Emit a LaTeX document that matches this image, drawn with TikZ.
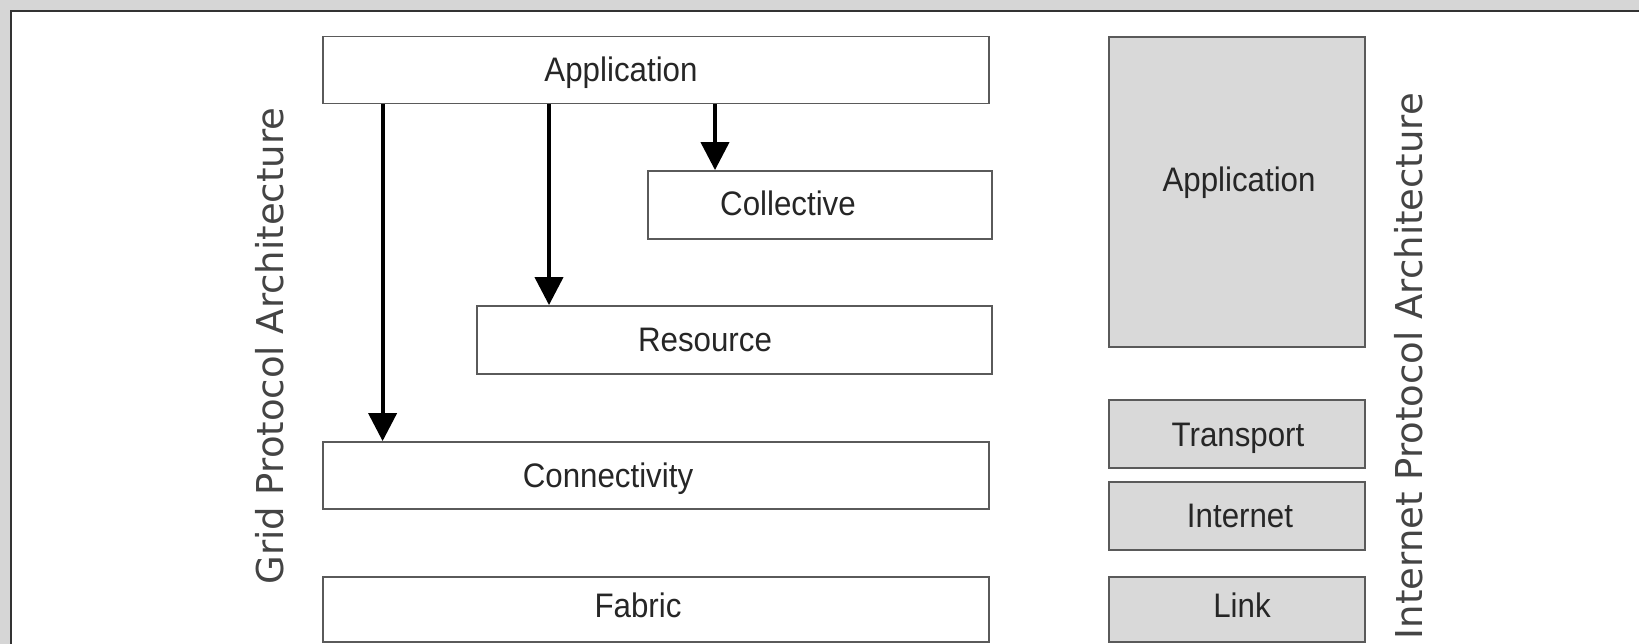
\documentclass[tikz,border=0pt]{standalone}
\usepackage{fontspec}
\usetikzlibrary{arrows.meta}
\newfontfamily\boxfont[FakeStretch=0.92]{Liberation Sans}
\newfontfamily\sidefont{DejaVu Sans}
\definecolor{bggrey}{HTML}{D6D6D6}
\definecolor{framegrey}{HTML}{333333}
\definecolor{boxline}{HTML}{5A5A5A}
\definecolor{boxfill}{HTML}{D9D9D9}
\definecolor{sidetext}{HTML}{444444}
\tikzset{
  layer/.style={draw=boxline, line width=1.8pt, rectangle, inner sep=0pt},
  inetlayer/.style={layer, fill=boxfill},
  lbl/.style={font=\boxfont\fontsize{34}{38}\selectfont, text=black!85, inner sep=0pt, anchor=base},
  side/.style={font=\sidefont\fontsize{37}{40}\selectfont, text=sidetext, inner sep=0pt, rotate=90},
  arr/.style={line width=4pt, -{Triangle[width=28pt,length=28pt]}}
}
\begin{document}
\begin{tikzpicture}[x=1pt,y=-1pt]
\useasboundingbox (0,0) rectangle (1639,644);
\fill[bggrey] (0,0) rectangle (1639,644);
\fill[white] (11,11) rectangle (1639,644);
\draw[framegrey, line width=2pt] (11,644) -- (11,11) -- (1639,11);

% Grid protocol stack
\node[layer, minimum width=666pt, minimum height=67pt] (gApp) at (656,70) {};
\node[layer, minimum width=344pt, minimum height=68pt] (gColl) at (820,205) {};
\node[layer, minimum width=515pt, minimum height=68pt] (gRes) at (734.5,340) {};
\node[layer, minimum width=666pt, minimum height=67pt] (gConn) at (656,475.5) {};
\node[layer, minimum width=666pt, minimum height=65pt] (gFab) at (656,609.5) {};

\node[lbl] (tgApp) at (621,82) {Application};
\node[lbl] (tgColl) at (788,216) {Collective};
\node[lbl] (tgRes) at (705,352) {Resource};
\node[lbl] (tgConn) at (608,487) {Connectivity};
\node[lbl] (tgFab) at (638,617) {Fabric};

% Internet protocol stack
\node[inetlayer, minimum width=256pt, minimum height=310pt] (iApp) at (1237,192) {};
\node[inetlayer, minimum width=256pt, minimum height=68pt] (iTr) at (1237,434) {};
\node[inetlayer, minimum width=256pt, minimum height=68pt] (iInt) at (1237,516) {};
\node[inetlayer, minimum width=256pt, minimum height=65pt] (iLink) at (1237,609.5) {};

\node[lbl] (tiApp) at (1239,192) {Application};
\node[lbl] (tiTr) at (1238,446) {Transport};
\node[lbl] (tiInt) at (1240,527) {Internet};
\node[lbl] (tiLink) at (1242,617) {Link};

% side labels
\node[side] (gridlbl) at (270,346) {Grid Protocol Architecture};
\node[side] (inetlbl) at (1409,366) {Internet Protocol Architecture};

% arrows
\coordinate (c1) at (382.6,0);
\coordinate (c2) at (549,0);
\coordinate (c3) at (715,0);
\draw[arr] (gApp.south -| c1) -- (gConn.north -| c1);
\draw[arr] (gApp.south -| c2) -- (gRes.north -| c2);
\draw[arr] (gApp.south -| c3) -- (gColl.north -| c3);
\end{tikzpicture}
\end{document}
